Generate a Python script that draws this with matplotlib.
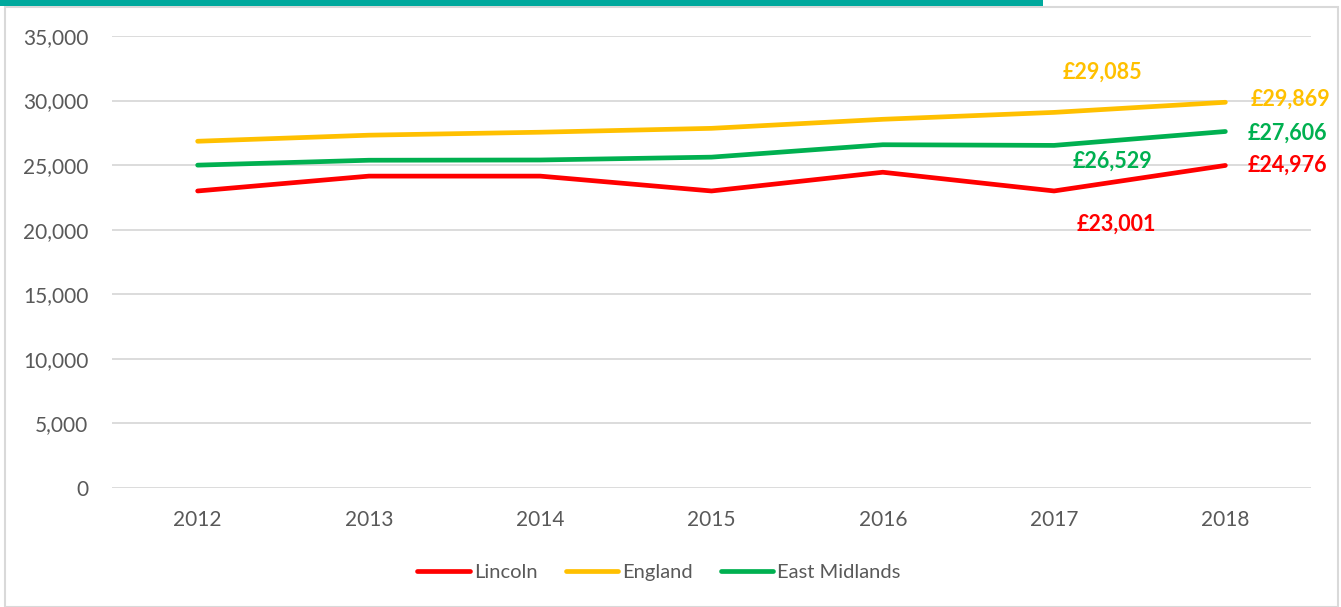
import matplotlib
matplotlib.use("Agg")
import matplotlib.pyplot as plt
from matplotlib.patches import Rectangle
from matplotlib.ticker import FuncFormatter

years = ["2012", "2013", "2014", "2015", "2016", "2017", "2018"]
lincoln = [23000, 24150, 24150, 23000, 24450, 23001, 24976]
england = [26850, 27320, 27550, 27850, 28550, 29085, 29869]
east_midlands = [25000, 25380, 25400, 25620, 26580, 26529, 27606]
series_names = ["Lincoln", "England", "East Midlands"]
colors = ["#FF0000", "#FFC000", "#00B050"]
yticks = [0, 5000, 10000, 15000, 20000, 25000, 30000, 35000]

plt.rcParams['font.family'] = ['Lato', 'DejaVu Sans']

W, H = 1341, 607
fig = plt.figure(figsize=(W / 100, H / 100), dpi=100)

# border and teal header bar
fig.patches.append(Rectangle((5 / W, 0), (1338 - 5) / W, (H - 7) / H, transform=fig.transFigure,
                             fill=False, edgecolor="#D9D9D9", linewidth=1.5, zorder=0))
fig.patches.append(Rectangle((0, (H - 6) / H), 1043 / W, 6 / H, transform=fig.transFigure,
                             facecolor="#00A99D", edgecolor="none", zorder=1))

left, right = 112 / W, 1311 / W
top, bottom = 1 - 36 / H, 1 - 488 / H
ax = fig.add_axes([left, bottom, right - left, top - bottom])

x = list(range(len(years)))
for vals, name, c in zip([lincoln, england, east_midlands], series_names, colors):
    ax.plot(x, vals, color=c, linewidth=3.4, label=name, solid_capstyle="round", zorder=3)

ax.set_xlim(-0.5, len(years) - 0.5)
ax.set_ylim(0, 35000)
ax.set_yticks(yticks)
ax.yaxis.set_major_formatter(FuncFormatter(lambda v, p: f"{int(v):,}"))
ax.set_xticks(x)
ax.set_xticklabels(years)
ax.grid(axis="y", color="#D9D9D9", linewidth=1.3)
ax.set_axisbelow(True)
for s in ax.spines.values():
    s.set_visible(False)
ax.tick_params(axis="both", length=0, labelsize=15, labelcolor="#595959")
ax.tick_params(axis="y", pad=17)
ax.tick_params(axis="x", pad=16)

# data labels
lab_kw = dict(fontsize=15.5, fontweight="bold", textcoords="offset points")
ax.annotate(f"£{england[5]:,}", (5, england[5]), xytext=(35, 29), ha="center", va="center", color=colors[1], **lab_kw)
ax.annotate(f"£{east_midlands[5]:,}", (5, east_midlands[5]), xytext=(42, -11.5), ha="center", va="center", color=colors[2], **lab_kw)
ax.annotate(f"£{lincoln[5]:,}", (5, lincoln[5]), xytext=(45, -24), ha="center", va="center", color=colors[0], **lab_kw)
ax.annotate(f"£{england[6]:,}", (6, england[6]), xytext=(18, 2), ha="left", va="center", color=colors[1], **lab_kw)
ax.annotate(f"£{east_midlands[6]:,}", (6, east_midlands[6]), xytext=(16, -1), ha="left", va="center", color=colors[2], **lab_kw)
ax.annotate(f"£{lincoln[6]:,}", (6, lincoln[6]), xytext=(16, 0), ha="left", va="center", color=colors[0], **lab_kw)

leg = fig.legend(loc="center", bbox_to_anchor=(659 / W, 1 - 572 / H), ncol=3, frameon=False,
                 fontsize=14.5, handlelength=2.6, handletextpad=0.2, columnspacing=1.4)
for t in leg.get_texts():
    t.set_color("#595959")

fig.savefig("out.png", dpi=100)
